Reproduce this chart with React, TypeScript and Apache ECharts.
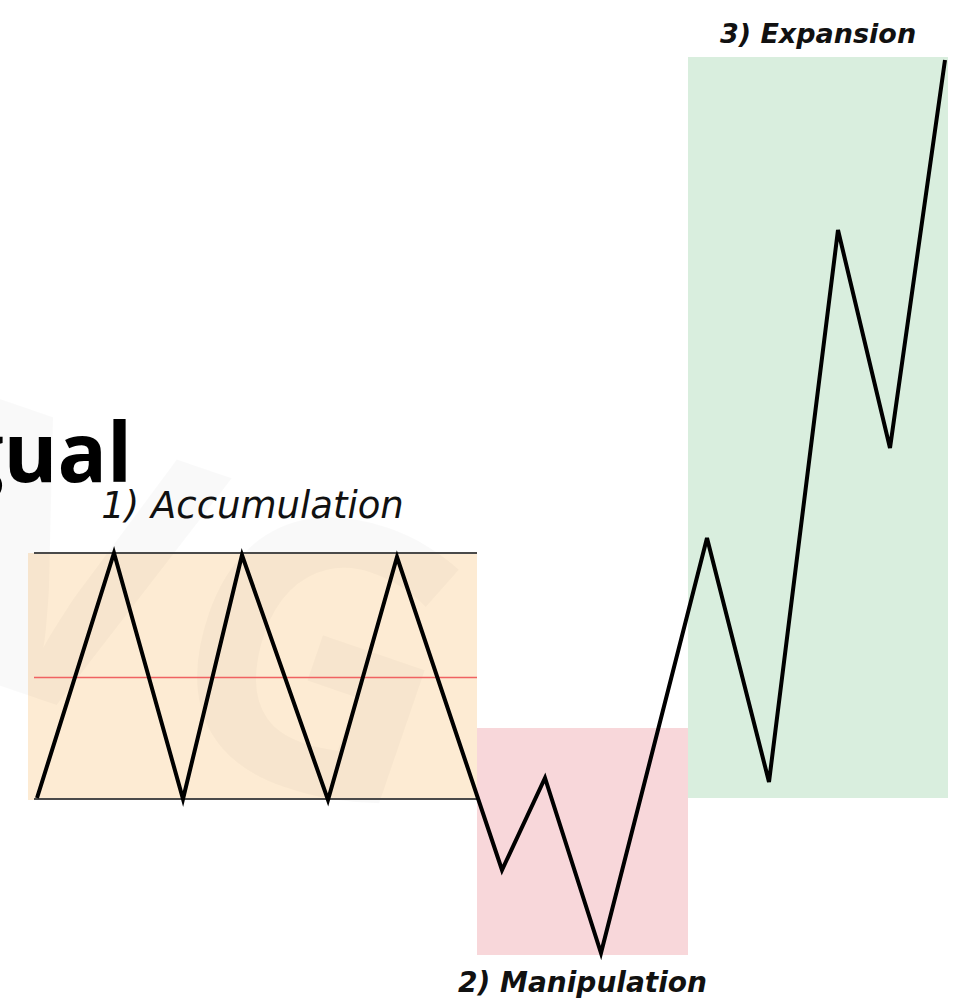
import React, { useEffect, useRef } from "react";
import * as echarts from "echarts";

// Price path (diagram units: x to the right, y downward as in the picture)
const pathX = [37, 114, 183, 242, 328, 397, 502, 545, 601, 707, 769, 838, 890, 945];
const pathY = [798, 553, 799, 555, 800, 557, 870, 778, 953, 538, 782, 230, 448, 60];

// Phase zones: [x0, y0, x1, y1]
const zoneNames = ["1) Accumulation", "2) Manipulation", "3) Expansion"];
const zoneBoxes = [
  [28, 553, 477, 800],
  [477, 728, 688, 955],
  [688, 57, 948, 798],
];
const zoneColors = ["#fdebd3", "#f8d7da", "#d9eede"];

// Range lines of the accumulation: [x0, x1, y]
const rangeLines = [
  [34, 477, 553],
  [34, 477, 799],
  [34, 477, 677],
];
const rangeColors = ["#4a4a4a", "#4a4a4a", "#f06262"];
const rangeWidths = [2, 2, 1.3];

export default function App() {
  const ref = useRef<HTMLDivElement>(null);
  useEffect(() => {
    const chart = echarts.init(ref.current!, undefined, { renderer: "svg" });
    const labelFont = "'DejaVu Sans', sans-serif";
    const sizes = [37, 28, 27];
    const dists = [29, 13, 10];
    const areaData = zoneBoxes.map((b, i) => [
      {
        name: zoneNames[i],
        coord: [b[0], b[1]],
        itemStyle: { color: zoneColors[i] },
        label: {
          show: true,
          position: i === 1 ? "bottom" : "top",
          distance: dists[i],
          color: "#111",
          fontFamily: labelFont,
          fontStyle: "italic",
          fontWeight: i === 0 ? "normal" : "bold",
          fontSize: sizes[i],
        },
      },
      { coord: [b[2], b[3]] },
    ]);
    const lineData = rangeLines.map((l, i) => [
      { coord: [l[0], l[2]], lineStyle: { color: rangeColors[i], width: rangeWidths[i], type: "solid" } },
      { coord: [l[1], l[2]] },
    ]);
    chart.setOption({
      animation: false,
      backgroundColor: "#ffffff",
      grid: { left: 0, right: 0, top: 0, bottom: 0 },
      xAxis: { type: "value", min: 0, max: 961, show: false },
      yAxis: { type: "value", min: 0, max: 999, inverse: true, show: false },
      graphic: [
        {
          type: "text",
          x: 205,
          y: 600,
          rotation: -0.33,
          z: 1,
          silent: true,
          style: {
            text: "VG",
            fontSize: 380,
            fontWeight: "bold",
            fontFamily: "'Open Sans', sans-serif",
            fill: "rgba(0,0,0,0.025)",
            align: "center",
            verticalAlign: "middle",
          },
        },
        {
          type: "text",
          x: 132,
          y: 450,
          z: 100,
          style: {
            text: "gual",
            fontSize: 82,
            fontWeight: "bold",
            fontFamily: "'Open Sans', sans-serif",
            fill: "#000",
            align: "right",
            verticalAlign: "middle",
          },
        },
      ],
      series: [
        {
          type: "line",
          data: pathX.map((x, i) => [x, pathY[i]]),
          symbol: "none",
          z: 10,
          lineStyle: { color: "#000", width: 4, join: "miter" },
          markArea: { silent: true, z: -1, data: areaData },
          markLine: { silent: true, symbol: "none", label: { show: false }, data: lineData },
        },
      ],
    });
    return () => chart.dispose();
  }, []);
  return (
    <div
      ref={ref}
      style={{ position: "fixed", left: 0, top: 0, width: 961, height: 999 }}
    />
  );
}
